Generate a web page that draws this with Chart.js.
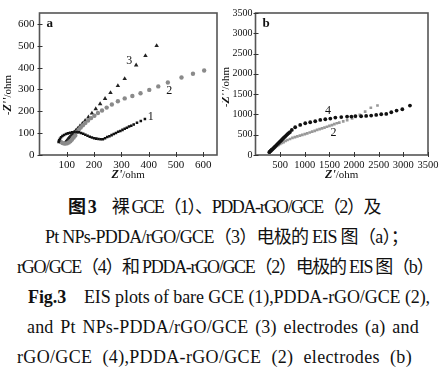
<!DOCTYPE html>
<html><head><meta charset="utf-8">
<script src="https://cdn.jsdelivr.net/npm/chart.js@4.4.0/dist/chart.umd.min.js"></script>
<style>
html,body{margin:0;padding:0;background:#fff;width:447px;height:377px;overflow:hidden;position:relative;}
#wa{position:absolute;left:0;top:0;width:222px;height:190px;}
#wb{position:absolute;left:222px;top:0;width:225px;height:190px;}
.cap{position:absolute;white-space:nowrap;font-family:"Liberation Serif","Noto Sans CJK SC",serif;font-size:18px;line-height:30px;color:#111;}
.cap b{font-weight:bold;}
</style></head><body>
<div id="wa"><canvas id="ca" width="222" height="190"></canvas></div>
<div id="wb"><canvas id="cb" width="225" height="190"></canvas></div>
<script>
// ---------- Panel a data ----------
const gceX = [70,72,75,79,84,90,97,104,112,120,128,136,144,152,160,168,176,184,192,200,208,216,224,232,240,248,256,264,272,280,288,296,304,312,320,328,336,345,357,371,386];
const gceY = [60,67,74,81,87,92,96,99,102,104,105,105,104,101,97,93,88,84,80,77,75,73,72,72,77,82,86,91,96,101,106,110,115,120,125,130,134,140,148,156,165];
const pddaAX = [78,84,92,100,107,113,119,125,131,137,144,151,159,168,178,189,201,214,229,246,265,287,312,340,370,402,435,470,520,562,603];
const pddaAY = [60,55,52,53,57,63,71,80,89,105,116,126,136,147,158,169,180,192,204,217,231,246,259,270,283,298,314,332,355,372,387];
const ptX = [95,99,103,107,111,116,121,127,133,140,148,157,167,179,192,206,222,240,260,287,312,354,388,429];
const ptY = [58,64,70,76,82,89,96,104,112,121,132,144,157,173,191,211,234,258,285,317,349,411,454,500];
const aXTicks = [100,200,300,400,500,600];
const aYTicks = [0,100,200,300,400,500,600];

// ---------- Panel b data ----------
const rgoX = [280,295,310,325,340,360,380,400,425,450,475,500,525,550,575,600,625,650,675,700,737,805,907,1009,1110,1212,1314,1416,1518,1620,1740,1858,1946,2027,2143,2245,2347,2449,2551,2653,2755,2863,2979,3134];
const rgoY = [70,90,108,125,140,165,190,215,245,275,305,335,365,395,425,455,485,515,540,565,617,684,741,782,807,832,864,881,897,922,935,947,947,960,955,963,971,988,1005,1013,1054,1095,1128,1219];
const pddaBX = [285,305,320,340,360,385,410,440,470,500,535,570,610,650,700,750,800,850,900,950,1000,1050,1100,1150,1200,1250,1300,1350,1400,1450,1500,1550,1600,1650,1700,1780,1860,1960,2030,2116,2225,2340,2475];
const pddaBY = [60,80,100,125,150,175,200,225,250,272,295,318,345,370,395,420,440,460,478,497,516,535,555,575,596,617,637,657,677,697,717,738,760,782,800,830,860,900,940,990,1070,1165,1220];
const bXTicks = [500,1000,1500,2000,2500,3000,3500];
const bYTicks = [0,500,1000,1500,2000,2500,3000,3500];

const pts = (xs, ys) => xs.map((x,i)=>({x, y: ys[i]}));
const SERIF = '"Liberation Serif", "Times New Roman", serif';

const framePlugin = {
  id: 'frame',
  afterDraw(chart, args, o) {
    const {ctx, chartArea: a, scales: {x, y}} = chart;
    ctx.save();
    ctx.strokeStyle = '#555';
    ctx.lineWidth = 1.6;
    ctx.strokeRect(a.left, a.top, a.right - a.left, a.bottom - a.top);
    ctx.lineWidth = 1;
    ctx.strokeStyle = '#333';
    ctx.beginPath();
    x.ticks.forEach(t => { const p = Math.round(x.getPixelForValue(t.value)) + 0.5; ctx.moveTo(p, a.bottom + 2); ctx.lineTo(p, a.bottom - 3); });
    y.ticks.forEach(t => { const p = Math.round(y.getPixelForValue(t.value)) + 0.5; ctx.moveTo(a.left - 2, p); ctx.lineTo(a.left + 3, p); });
    ctx.stroke();
    ctx.fillStyle = '#111';
    ctx.font = 'bold 13px ' + SERIF;
    ctx.textAlign = 'left'; ctx.textBaseline = 'middle';
    ctx.fillText(o.letter, a.left + o.letterDx, a.top + 11);
    ctx.font = '12px ' + SERIF;
    ctx.textAlign = 'center';
    o.labels.forEach(l => ctx.fillText(l.t, x.getPixelForValue(l.x), y.getPixelForValue(l.y)));
    const drawParts = (parts, cx, cy) => {
      let w = 0;
      parts.forEach(p => { ctx.font = p.f; w += ctx.measureText(p.t).width; });
      let cur = cx - w / 2;
      ctx.textAlign = 'left';
      parts.forEach(p => { ctx.font = p.f; ctx.fillText(p.t, cur, cy); cur += ctx.measureText(p.t).width; });
    };
    const bi = 'italic bold 12px ' + SERIF, nr = '11px ' + SERIF;
    drawParts([{t: "Z'", f: bi}, {t: '/ohm', f: nr}], (a.left + a.right) / 2, o.xTitleY);
    ctx.save();
    ctx.translate(o.yTitleX, o.yTitleY);
    ctx.rotate(-Math.PI / 2);
    drawParts([{t: '-', f: nr}, {t: "Z''", f: bi}, {t: '/ohm', f: nr}], 0, 0);
    ctx.restore();
    ctx.restore();
  }
};

function axis(min, max, tickList, fit, pad, size) {
  return {
    type: 'linear', min, max,
    afterBuildTicks: s => { s.ticks = tickList.map(v => ({value: v})); },
    afterFit: fit,
    grid: {display: false, drawTicks: false},
    border: {display: false},
    ticks: {autoSkip: false, maxRotation: 0, padding: pad, color: '#111', font: {family: SERIF, size: size},
            callback: v => String(v)}
  };
}

function makeChart(id, datasets, xs, ys, layoutPad, plug) {
  return new Chart(document.getElementById(id), {
    type: 'scatter',
    data: {datasets},
    options: {
      responsive: false, animation: false, devicePixelRatio: 1,
      layout: {padding: layoutPad},
      plugins: {legend: {display: false}, tooltip: {enabled: false}, frame: plug},
      scales: {x: xs, y: ys}
    },
    plugins: [framePlugin]
  });
}

makeChart('ca', [
  {data: pts(gceX, gceY), pointStyle: 'rect', pointRadius: 1.8, backgroundColor: '#111', borderWidth: 0},
  {data: pts(pddaAX, pddaAY), pointStyle: 'circle', pointRadius: 2.2, backgroundColor: '#8a8a8a', borderWidth: 0},
  {data: pts(ptX, ptY), pointStyle: 'triangle', pointRadius: 2.6, backgroundColor: '#222', borderWidth: 0}
],
  axis(0, 650, aXTicks, s => { s.height = 35; }, 4, 11),
  axis(0, 650, aYTicks, s => { s.width = 39.5; }, 5, 11),
  {left: 0, top: 13, right: 5, bottom: 0},
  {letter: 'a', letterDx: 7, xTitleY: 175, yTitleX: 8, yTitleY: 95,
   labels: [{t: '3', x: 329, y: 429}, {t: '2', x: 475, y: 292}, {t: '1', x: 407, y: 174}]}
);

makeChart('cb', [
  {data: pts(rgoX, rgoY), pointStyle: 'circle', pointRadius: 1.9, backgroundColor: '#111', borderWidth: 0},
  {data: pts(pddaBX, pddaBY), pointStyle: 'rect', pointRadius: 1.9, backgroundColor: '#999', borderWidth: 0}
],
  axis(0, 3500, bXTicks, s => { s.height = 35; }, 4, 10.5),
  axis(0, 3500, bYTicks, s => { s.width = 33.5; }, 3, 10),
  {left: 0, top: 13, right: 19, bottom: 0},
  {letter: 'b', letterDx: 7, xTitleY: 175, yTitleX: 4, yTitleY: 87,
   labels: [{t: '4', x: 1471, y: 1094}, {t: '2', x: 1585, y: 536}]}
);

// ---------- Caption ----------
const capLines = [
  {h: '<b>图 3</b>　裸 GCE（1）、PDDA-rGO/GCE（2）及', x0: 68, x1: 380, cy: 206.7},
  {h: 'Pt NPs-PDDA/rGO/GCE（3）电极的 EIS 图（a）；', x0: 45, x1: 408, cy: 236.7},
  {h: 'rGO/GCE（4）和 PDDA-rGO/GCE（2）电极的 EIS 图（b）', x0: 17, x1: 433, cy: 266.7},
  {h: '<b>Fig.3</b>　EIS plots of bare GCE (1),PDDA-rGO/GCE (2),', x0: 28, x1: 430, cy: 296.7},
  {h: 'and Pt NPs-PDDA/rGO/GCE (3) electrodes (a) and', x0: 27, x1: 419, cy: 326.7},
  {h: 'rGO/GCE (4),PDDA-rGO/GCE (2) electrodes (b)', x0: 17, x1: 412, cy: 356.7}
];
capLines.forEach(c => {
  const d = document.createElement('div');
  d.className = 'cap';
  d.innerHTML = c.h;
  document.body.appendChild(d);
  const w = d.getBoundingClientRect().width;
  const txt = d.textContent;
  const n = txt.length;
  const s = (txt.match(/ /g) || []).length;
  const extra = c.x1 - c.x0 - w;
  if (s > 0 && extra > 0) {
    d.style.wordSpacing = (extra * 0.6 / s).toFixed(2) + 'px';
    d.style.letterSpacing = (extra * 0.4 / n).toFixed(2) + 'px';
  } else {
    d.style.letterSpacing = (extra / n).toFixed(2) + 'px';
  }
  d.style.left = c.x0 + 'px';
  d.style.top = (c.cy - 15) + 'px';
});
</script>
</body></html>
